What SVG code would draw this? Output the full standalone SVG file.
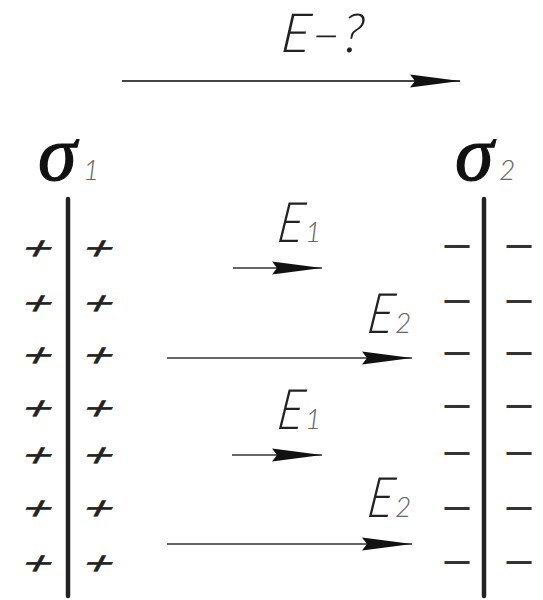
<svg xmlns="http://www.w3.org/2000/svg" width="543" height="600" viewBox="0 0 543 600">
<defs>
<marker id="ah" markerUnits="userSpaceOnUse" markerWidth="52" markerHeight="16" refX="50" refY="8" orient="auto">
<path d="M0,1.5 L50,8 L0,14.5 L5,8 Z" fill="#111"/>
</marker>
<style>
.plate{stroke:#222;stroke-width:4.5;stroke-linecap:round}
.field{stroke:#666;stroke-width:2;fill:none;marker-end:url(#ah)}
.main{stroke:#444;stroke-width:2;fill:none;marker-end:url(#ah)}
.gost{font-family:Lato,"Liberation Sans",sans-serif;font-style:italic;font-weight:300;fill:#222}
.sub{font-family:Lato,"Liberation Sans",sans-serif;font-style:italic;font-weight:300;fill:#666;font-size:28px}
.sig{font-family:"Liberation Serif",serif;font-style:italic;font-size:78px;fill:#111;stroke:#111;stroke-width:1.2}
.plus text{font-family:"Liberation Sans",sans-serif;font-size:40px;fill:#222;stroke:#222;stroke-width:0.6;text-anchor:middle}
.minus{font-family:"Liberation Sans",sans-serif;font-size:45px;fill:#333;text-anchor:middle}
</style>
</defs>
<rect width="543" height="600" fill="#fff"/>
<g id="question">
<text class="gost" transform="translate(280,52) skewX(-6)" font-size="54">E–?</text>
</g>
<g id="plate1">
<line class="plate" x1="68" y1="199" x2="68" y2="596"/>
<text class="sig" x="38" y="180">σ</text>
<text class="sub" x="83" y="180">1</text>
<g class="plus">
<text transform="translate(39,248) skewX(-28) scale(1.25,0.8)" y="14">+</text><text transform="translate(100,248) skewX(-28) scale(1.25,0.8)" y="14">+</text>
<text transform="translate(39,303) skewX(-28) scale(1.25,0.8)" y="14">+</text><text transform="translate(100,303) skewX(-28) scale(1.25,0.8)" y="14">+</text>
<text transform="translate(39,355) skewX(-28) scale(1.25,0.8)" y="14">+</text><text transform="translate(100,355) skewX(-28) scale(1.25,0.8)" y="14">+</text>
<text transform="translate(39,408) skewX(-28) scale(1.25,0.8)" y="14">+</text><text transform="translate(100,408) skewX(-28) scale(1.25,0.8)" y="14">+</text>
<text transform="translate(39,455) skewX(-28) scale(1.25,0.8)" y="14">+</text><text transform="translate(100,455) skewX(-28) scale(1.25,0.8)" y="14">+</text>
<text transform="translate(39,508) skewX(-28) scale(1.25,0.8)" y="14">+</text><text transform="translate(100,508) skewX(-28) scale(1.25,0.8)" y="14">+</text>
<text transform="translate(39,563) skewX(-28) scale(1.25,0.8)" y="14">+</text><text transform="translate(100,563) skewX(-28) scale(1.25,0.8)" y="14">+</text>
</g>
</g>
<g id="plate2">
<line class="plate" x1="484" y1="199" x2="484" y2="596"/>
<text class="sig" x="455" y="180">σ</text>
<text class="sub" x="499" y="180">2</text>
<g class="minus">
<text x="457" y="258">–</text><text x="519" y="258">–</text>
<text x="457" y="313">–</text><text x="519" y="313">–</text>
<text x="457" y="365">–</text><text x="519" y="365">–</text>
<text x="457" y="418">–</text><text x="519" y="418">–</text>
<text x="457" y="465">–</text><text x="519" y="465">–</text>
<text x="457" y="520">–</text><text x="519" y="520">–</text>
<text x="457" y="574">–</text><text x="519" y="574">–</text>
</g>
</g>
<g id="labels">
<text class="gost" transform="translate(276,242) skewX(-8) scale(0.85,1)" font-size="56">E</text><text class="sub" x="305" y="242">1</text>
<text class="gost" transform="translate(366,333) skewX(-8) scale(0.85,1)" font-size="56">E</text><text class="sub" x="395" y="333">2</text>
<text class="gost" transform="translate(276,429) skewX(-8) scale(0.85,1)" font-size="56">E</text><text class="sub" x="305" y="429">1</text>
<text class="gost" transform="translate(366,517) skewX(-8) scale(0.85,1)" font-size="56">E</text><text class="sub" x="395" y="517">2</text>
</g>
<g id="connectors">
<line class="main" x1="122" y1="81" x2="460" y2="81"/>
<line class="field" x1="233" y1="268" x2="322" y2="268"/>
<line class="field" x1="167" y1="358" x2="412" y2="358"/>
<line class="field" x1="232" y1="455" x2="322" y2="455"/>
<line class="field" x1="167" y1="544" x2="412" y2="544"/>
</g>
</svg>
